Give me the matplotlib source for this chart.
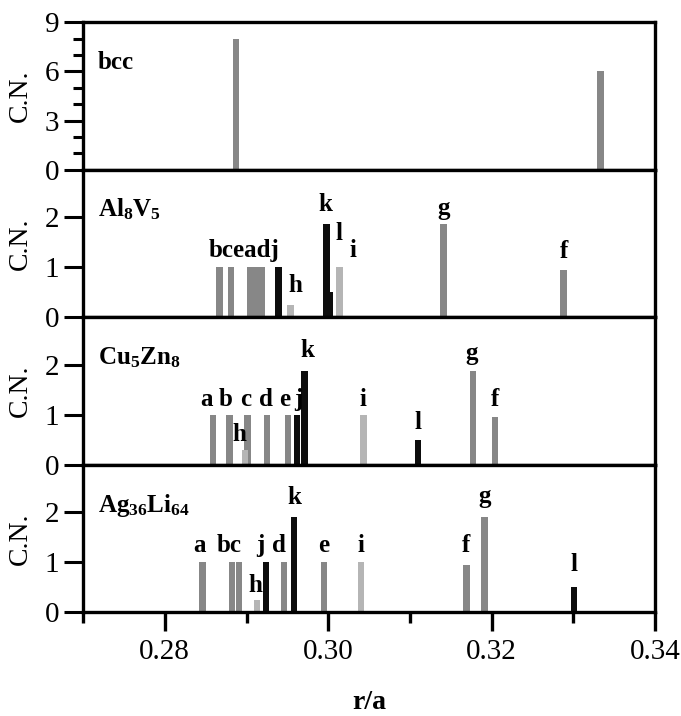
import numpy as np
import matplotlib.pyplot as plt
from matplotlib.ticker import MultipleLocator

plt.rcParams['font.family'] = 'Liberation Serif'
plt.rcParams['mathtext.fontset'] = 'custom'
plt.rcParams['mathtext.rm'] = 'Liberation Serif'
plt.rcParams['mathtext.bf'] = 'Liberation Serif:bold'

# panel names
names = ['bcc', r'$\mathbf{Al_8V_5}$', r'$\mathbf{Cu_5Zn_8}$', r'$\mathbf{Ag_{36}Li_{64}}$']

# bcc
bcc_r = [0.2887, 0.3333]
bcc_cn = [8.0, 6.0]
bcc_kind = ['mid', 'mid']

# Al8V5  (b c e a d j h k l i g f)
al_r = [0.2867, 0.2881, 0.2904, 0.2911, 0.2918, 0.2939, 0.2954, 0.2998, 0.3002, 0.3014, 0.3141, 0.3288]
al_cn = [1, 1, 1, 1, 1, 1, 0.25, 1.87, 0.5, 1, 1.87, 0.95]
al_kind = ['mid', 'mid', 'mid', 'mid', 'mid', 'dark', 'light', 'dark', 'dark', 'light', 'mid', 'mid']
al_lab = ['bceadj', 'h', 'k', 'l', 'i', 'g', 'f']
al_lab_r = [0.2897, 0.2960, 0.2996, 0.3013, 0.3030, 0.3141, 0.3288]
al_lab_y = [1.2, 0.5, 2.13, 1.55, 1.21, 2.05, 1.18]

# Cu5Zn8  (a b c h d e j k i l g f)
cu_r = [0.2859, 0.2879, 0.2901, 0.2898, 0.2925, 0.2951, 0.2962, 0.2971, 0.3043, 0.3110, 0.3177, 0.3204]
cu_cn = [1, 1, 1, 0.3, 1, 1, 1, 1.88, 1, 0.5, 1.87, 0.95]
cu_kind = ['mid', 'mid', 'mid', 'light', 'mid', 'mid', 'dark', 'dark', 'light', 'dark', 'mid', 'mid']
cu_lab = ['a', 'b', 'c', 'd', 'e', 'j', 'h', 'k', 'i', 'l', 'g', 'f']
cu_lab_r = [0.2851, 0.2875, 0.2899, 0.2924, 0.2947, 0.2963, 0.2891, 0.2974, 0.3043, 0.3110, 0.3175, 0.3204]
cu_lab_y = [1.18, 1.18, 1.18, 1.18, 1.18, 1.18, 0.47, 2.16, 1.18, 0.71, 2.1, 1.18]

# Ag36Li64  (a b c h j d k e i f g l)
ag_r = [0.2846, 0.2882, 0.2891, 0.2913, 0.2924, 0.2946, 0.2958, 0.2995, 0.3040, 0.3169, 0.3191, 0.3301]
ag_cn = [1, 1, 1, 0.25, 1, 1, 1.9, 1, 1, 0.95, 1.9, 0.5]
ag_kind = ['mid', 'mid', 'mid', 'light', 'dark', 'mid', 'dark', 'mid', 'light', 'mid', 'mid', 'dark']
ag_lab = ['a', 'bc', 'j', 'd', 'h', 'k', 'e', 'i', 'f', 'g', 'l']
ag_lab_r = [0.2843, 0.2879, 0.2917, 0.2940, 0.2911, 0.2959, 0.2995, 0.3040, 0.3169, 0.3191, 0.3301]
ag_lab_y = [1.2, 1.2, 1.2, 1.2, 0.41, 2.17, 1.2, 1.2, 1.2, 2.18, 0.82]

shade = {'mid': '#878787', 'light': '#b5b5b5', 'dark': '#0d0d0d'}

panels = [
    (bcc_r, bcc_cn, bcc_kind, [], [], []),
    (al_r, al_cn, al_kind, al_lab, al_lab_r, al_lab_y),
    (cu_r, cu_cn, cu_kind, cu_lab, cu_lab_r, cu_lab_y),
    (ag_r, ag_cn, ag_kind, ag_lab, ag_lab_r, ag_lab_y),
]

fig, axes = plt.subplots(4, 1, sharex=True, figsize=(6.81, 7.16), dpi=100)
plt.subplots_adjust(left=0.122, right=0.962, top=0.969, bottom=0.145, hspace=0)

for i, (ax, (r, cn, kind, lab, lab_r, lab_y)) in enumerate(zip(axes, panels)):
    ax.bar(r, cn, width=0.0008, color=[shade[k] for k in kind], zorder=2)
    for t, x, y in zip(lab, lab_r, lab_y):
        ax.text(x, y, t, ha='center', va='baseline', fontsize=18, fontweight='bold')
    ax.text(0.026, 0.68, names[i], transform=ax.transAxes, fontsize=18,
            fontweight='bold', va='baseline')

    for s in ax.spines.values():
        s.set_linewidth(2.4)
    ax.tick_params(axis='y', which='major', direction='out', length=14, width=2.2,
                   labelsize=21, pad=3)
    ax.tick_params(axis='y', which='minor', direction='out', length=7, width=2.2)
    ax.set_ylabel('C.N.', fontsize=20)
    ax.yaxis.set_label_coords(-0.087, 0.5)

    if i == 0:
        ax.set_ylim(0, 9)
        ax.yaxis.set_major_locator(MultipleLocator(3))
        ax.yaxis.set_minor_locator(MultipleLocator(1))
    else:
        ax.set_ylim(0, 2.95)
        ax.set_yticks([0, 1, 2])

    if i < 3:
        ax.tick_params(axis='x', which='both', bottom=False, labelbottom=False)

ax = axes[-1]
ax.set_xlim(0.27, 0.34)
ax.xaxis.set_major_locator(MultipleLocator(0.02))
ax.xaxis.set_minor_locator(MultipleLocator(0.01))
ax.xaxis.set_major_formatter(plt.FormatStrFormatter('%.2f'))
ax.tick_params(axis='x', which='major', direction='out', length=14, width=2.4,
               labelsize=21, pad=5)
ax.tick_params(axis='x', which='minor', direction='out', length=8, width=2.4)
ax.set_xlabel('r/a', fontsize=20, fontweight='bold', labelpad=18)

plt.savefig('out.png', dpi=100)
